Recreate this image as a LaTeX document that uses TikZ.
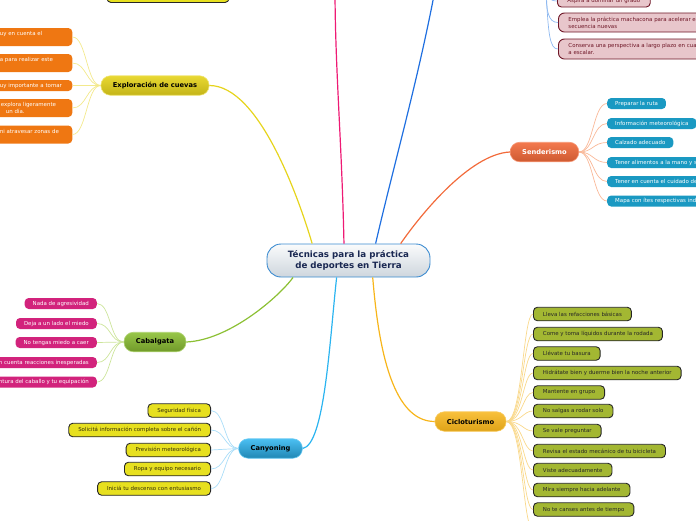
\documentclass[tikz,border=0pt]{standalone}
\usepackage{fontspec}
\setmainfont{DejaVu Sans}
\definecolor{rootborde}{RGB}{59, 139, 208}
\definecolor{rootalto}{RGB}{250, 251, 252}
\definecolor{rootbajo}{RGB}{206, 214, 221}
\definecolor{rootletra}{RGB}{26, 40, 82}
\definecolor{lineacueva}{RGB}{230, 212, 28}
\definecolor{hilocueva}{RGB}{243, 233, 140}
\definecolor{linearosa}{RGB}{238, 26, 116}
\definecolor{lineaazul}{RGB}{31, 111, 224}
\definecolor{hiloazul}{RGB}{141, 184, 240}
\definecolor{lineasenda}{RGB}{242, 106, 58}
\definecolor{hilosenda}{RGB}{249, 184, 152}
\definecolor{lineacab}{RGB}{140, 192, 52}
\definecolor{hilocab}{RGB}{204, 228, 154}
\definecolor{lineacan}{RGB}{43, 180, 240}
\definecolor{hilocan}{RGB}{169, 221, 248}
\definecolor{lineacic}{RGB}{247, 181, 26}
\definecolor{hilocic}{RGB}{249, 216, 138}
\definecolor{naranjahoja}{RGB}{239, 119, 18}
\definecolor{tealhoja}{RGB}{26, 153, 194}
\definecolor{magentahoja}{RGB}{210, 35, 124}
\definecolor{amarillohoja}{RGB}{231, 224, 31}
\definecolor{olivahoja}{RGB}{163, 183, 50}
\definecolor{rosahoja}{RGB}{232, 198, 203}
\definecolor{granate}{RGB}{110, 22, 38}
\definecolor{letraoscura}{RGB}{52, 46, 8}

\tikzset{
  raiz/.style={draw=rootborde, line width=0.9pt, top color=rootalto, bottom color=rootbajo,
    rounded corners=14pt, minimum width=163pt, minimum height=33pt, align=center,
    text=rootletra, font=\fontsize{8.7}{11}\selectfont\bfseries},
  tema/.style={rounded corners=9.5pt, minimum height=19.5pt, inner xsep=12pt, line width=0.6pt,
    font=\fontsize{6.7}{8}\selectfont\bfseries},
  hoja/.style={rounded corners=4pt, minimum height=11pt, inner xsep=8pt, inner ysep=1.5pt,
    font=\fontsize{5.45}{7}\selectfont},
  hojanegra/.style={hoja, draw=black!85, line width=0.9pt, minimum height=13.5pt, inner xsep=9.5pt},
  rama/.style={line width=1.2pt},
  ramita/.style={line width=0.7pt},
}

\begin{document}
\begin{tikzpicture}[x=1pt, y=-1pt]
  \useasboundingbox (0,0) rectangle (696,520);
  \clip (0,0) rectangle (696,520);

  % 中心节点
  \node[raiz] (root) at (348.5,260.5) {Técnicas para la práctica\\de deportes en Tierra};

  % 主题
  \node[tema, draw=lineacueva!60, top color=lineacueva!90!white, bottom color=lineacueva!85!black] (cuevas) at (155,85.5) {Exploración de cuevas};
  \node[tema, draw=lineasenda!70, top color=lineasenda!90!white, bottom color=lineasenda!85!black, text=white] (senda) at (544.5,152) {Senderismo};
  \node[tema, draw=lineacab!70, top color=lineacab!90!white, bottom color=lineacab!80!black] (cabal) at (155,342) {Cabalgata};
  \node[tema, draw=lineacan!70, top color=lineacan!85!white, bottom color=lineacan!75!black] (canyon) at (270.5,448.5) {Canyoning};
  \node[tema, draw=lineacic!70, top color=lineacic!85!white, bottom color=lineacic!90!black] (ciclo) at (470.5,421.5) {Cicloturismo};

  % 画面外的节点
  \node[draw=black!85, line width=0.9pt, fill=amarillohoja, rounded corners=4pt, minimum width=122pt, minimum height=17pt] (arriba) at (168,-6) {};
  \coordinate (rosafin) at (335,-12);
  \coordinate (azulfin) at (435,-10);
  \coordinate (azulhijo) at (546,-14);
  \coordinate (cic12) at (533,530);

  % 主干
  \draw[rama, lineacueva] (root.155) .. controls +(-13,-44) and +(50,0) .. (cuevas.east);
  \draw[rama, linearosa] (root.105) .. controls +(-2,-100) and +(0,80) .. (rosafin);
  \draw[rama, lineaazul] (root.32) .. controls +(17,-74) and +(-17,90) .. (azulfin);
  \draw[rama, lineasenda] (root.18) .. controls +(20,-29) and +(-40,2) .. (senda.west);
  \draw[rama, lineacab] (root.197) .. controls +(-13,18) and +(44,-2) .. (cabal.east);
  \draw[rama, lineacan] (root.235) .. controls +(-7,63) and +(22,-4) .. (canyon.east);
  \draw[rama, lineacic] (root.325) .. controls +(5,60) and +(-45,0) .. (ciclo.west);

  % Exploración de cuevas
  \node[hoja, fill=naranjahoja, text=white, anchor=east, text width=69.8pt, align=left, minimum height=18pt] (cue1) at (72.5,37) {muy en cuenta el\\\mbox{}};
  \node[hoja, fill=naranjahoja, text=white, anchor=east, text width=64.5pt, align=left, minimum height=18pt] (cue2) at (72.5,63) {a para realizar este\\\mbox{}};
  \node[hoja, fill=naranjahoja, text=white, anchor=east, text width=69.8pt, align=left] (cue3) at (72.5,85.5) {muy importante a tomar};
  \node[hoja, fill=naranjahoja, text=white, anchor=east, text width=63.5pt, align=left, minimum height=18pt] (cue4) at (72.5,108) {explora ligeramente\\\hspace*{5pt}un día.};
  \node[hoja, fill=naranjahoja, text=white, anchor=east, text width=64.5pt, align=left, minimum height=18pt] (cue5) at (72.5,134.5) {ni atravesar zonas de\\\mbox{}};
  \draw[ramita, hilocueva] (cuevas.west) .. controls +(-14,0) and +(14,0) .. (cue1.east);
  \draw[ramita, hilocueva] (cuevas.west) .. controls +(-14,0) and +(14,0) .. (cue2.east);
  \draw[ramita, hilocueva] (cuevas.west) .. controls +(-14,0) and +(14,0) .. (cue3.east);
  \draw[ramita, hilocueva] (cuevas.west) .. controls +(-14,0) and +(14,0) .. (cue4.east);
  \draw[ramita, hilocueva] (cuevas.west) .. controls +(-14,0) and +(14,0) .. (cue5.east);

  % 右上角
  \node[hoja, fill=rosahoja, draw=granate, line width=0.9pt, text=granate, inner xsep=10pt, minimum height=12pt, anchor=west] (asp1) at (557,1) {Aspira a dominar un grado};
  \node[hoja, fill=rosahoja, draw=granate, line width=0.9pt, text=granate, inner xsep=10pt, minimum height=19pt, anchor=west, align=left, rounded corners=6pt] (asp2) at (558,22.5) {Emplea la práctica machacona para acelerar el ritmo de la\\secuencia nuevas};
  \node[hoja, fill=rosahoja, draw=granate, line width=0.9pt, text=granate, inner xsep=10pt, minimum height=20pt, anchor=west, align=left, rounded corners=6pt] (asp3) at (558,49) {Conserva una perspectiva a largo plazo en cuanto a la forma\\a escalar.};
  \draw[ramita, hiloazul] (azulhijo) .. controls +(0,10) and +(-8,0) .. (asp1.west);
  \draw[ramita, hiloazul] (azulhijo) .. controls +(0,25) and +(-10,0) .. (asp2.west);
  \draw[ramita, hiloazul] (azulhijo) .. controls +(2,50) and +(-8,0) .. (asp3.west);

  % Senderismo
  \node[hoja, fill=tealhoja, text=white, anchor=west] (sen1) at (607,103.5) {Preparar la ruta};
  \node[hoja, fill=tealhoja, text=white, anchor=west] (sen2) at (607,123.5) {Información meteorológica};
  \node[hoja, fill=tealhoja, text=white, anchor=west] (sen3) at (607,142.5) {Calzado adecuado};
  \node[hoja, fill=tealhoja, text=white, anchor=west] (sen4) at (607,162.5) {Tener alimentos a la mano y suficiente agua};
  \node[hoja, fill=tealhoja, text=white, anchor=west] (sen5) at (607,181.5) {Tener en cuenta el cuidado del medio ambiente};
  \node[hoja, fill=tealhoja, text=white, anchor=west] (sen6) at (607,201) {Mapa con ítes respectivas indicaciones};
  \draw[ramita, hilosenda] (senda.east) .. controls +(14,0) and +(-14,0) .. (sen1.west);
  \draw[ramita, hilosenda] (senda.east) .. controls +(14,0) and +(-14,0) .. (sen2.west);
  \draw[ramita, hilosenda] (senda.east) .. controls +(14,0) and +(-14,0) .. (sen3.west);
  \draw[ramita, hilosenda] (senda.east) .. controls +(14,0) and +(-14,0) .. (sen4.west);
  \draw[ramita, hilosenda] (senda.east) .. controls +(14,0) and +(-14,0) .. (sen5.west);
  \draw[ramita, hilosenda] (senda.east) .. controls +(14,0) and +(-14,0) .. (sen6.west);

  % Cabalgata
  \node[hoja, fill=magentahoja, text=white, anchor=east] (cab1) at (97,303.5) {Nada de agresividad};
  \node[hoja, fill=magentahoja, text=white, anchor=east] (cab2) at (97,323.5) {Deja a un lado el miedo};
  \node[hoja, fill=magentahoja, text=white, anchor=east] (cab3) at (97,342.5) {No tengas miedo a caer};
  \node[hoja, fill=magentahoja, text=white, anchor=east] (cab4) at (97,362.5) {Ten en cuenta reacciones inesperadas};
  \node[hoja, fill=magentahoja, text=white, anchor=east] (cab5) at (97,382) {Revisa la montura del caballo y tu equipación};
  \draw[ramita, hilocab] (cabal.west) .. controls +(-14,0) and +(14,0) .. (cab1.east);
  \draw[ramita, hilocab] (cabal.west) .. controls +(-14,0) and +(14,0) .. (cab2.east);
  \draw[ramita, hilocab] (cabal.west) .. controls +(-14,0) and +(14,0) .. (cab3.east);
  \draw[ramita, hilocab] (cabal.west) .. controls +(-14,0) and +(14,0) .. (cab4.east);
  \draw[ramita, hilocab] (cabal.west) .. controls +(-14,0) and +(14,0) .. (cab5.east);

  % Canyoning
  \node[hojanegra, fill=amarillohoja, text=letraoscura, anchor=east] (can1) at (211,410.5) {Seguridad física};
  \node[hojanegra, fill=amarillohoja, text=letraoscura, anchor=east] (can2) at (211,430) {Solicitá información completa sobre el cañón};
  \node[hojanegra, fill=amarillohoja, text=letraoscura, anchor=east] (can3) at (211,450) {Previsión meteorológica};
  \node[hojanegra, fill=amarillohoja, text=letraoscura, anchor=east] (can4) at (211,469) {Ropa y equipo necesario};
  \node[hojanegra, fill=amarillohoja, text=letraoscura, anchor=east] (can5) at (211,488.5) {Iniciá tu descenso con entusiasmo};
  \draw[ramita, hilocan] (canyon.west) .. controls +(-14,0) and +(14,0) .. (can1.east);
  \draw[ramita, hilocan] (canyon.west) .. controls +(-14,0) and +(14,0) .. (can2.east);
  \draw[ramita, hilocan] (canyon.west) .. controls +(-14,0) and +(14,0) .. (can3.east);
  \draw[ramita, hilocan] (canyon.west) .. controls +(-14,0) and +(14,0) .. (can4.east);
  \draw[ramita, hilocan] (canyon.west) .. controls +(-14,0) and +(14,0) .. (can5.east);

  % Cicloturismo
  \node[hojanegra, fill=olivahoja, text=black!85, anchor=west] (cic1) at (533,314) {Lleva las refacciones básicas};
  \node[hojanegra, fill=olivahoja, text=black!85, anchor=west] (cic2) at (533,334) {Come y toma líquidos durante la rodada};
  \node[hojanegra, fill=olivahoja, text=black!85, anchor=west] (cic3) at (533,353.5) {Llévate tu basura};
  \node[hojanegra, fill=olivahoja, text=black!85, anchor=west] (cic4) at (533,373) {Hidrátate bien y duerme bien la noche anterior};
  \node[hojanegra, fill=olivahoja, text=black!85, anchor=west] (cic5) at (533,392.5) {Mantente en grupo};
  \node[hojanegra, fill=olivahoja, text=black!85, anchor=west] (cic6) at (533,411) {No salgas a rodar solo};
  \node[hojanegra, fill=olivahoja, text=black!85, anchor=west] (cic7) at (533,431) {Se vale preguntar};
  \node[hojanegra, fill=olivahoja, text=black!85, anchor=west] (cic8) at (533,451) {Revisa el estado mecánico de tu bicicleta};
  \node[hojanegra, fill=olivahoja, text=black!85, anchor=west] (cic9) at (533,470) {Viste adecuadamente};
  \node[hojanegra, fill=olivahoja, text=black!85, anchor=west] (cic10) at (533,490) {Mira siempre hacia adelante};
  \node[hojanegra, fill=olivahoja, text=black!85, anchor=west] (cic11) at (533,509.5) {No te canses antes de tiempo};
  \draw[ramita, hilocic] (ciclo.east) .. controls +(16,0) and +(-10,0) .. (cic1.west);
  \draw[ramita, hilocic] (ciclo.east) .. controls +(16,0) and +(-10,0) .. (cic2.west);
  \draw[ramita, hilocic] (ciclo.east) .. controls +(16,0) and +(-10,0) .. (cic3.west);
  \draw[ramita, hilocic] (ciclo.east) .. controls +(16,0) and +(-10,0) .. (cic4.west);
  \draw[ramita, hilocic] (ciclo.east) .. controls +(16,0) and +(-10,0) .. (cic5.west);
  \draw[ramita, hilocic] (ciclo.east) .. controls +(16,0) and +(-10,0) .. (cic6.west);
  \draw[ramita, hilocic] (ciclo.east) .. controls +(16,0) and +(-10,0) .. (cic7.west);
  \draw[ramita, hilocic] (ciclo.east) .. controls +(16,0) and +(-10,0) .. (cic8.west);
  \draw[ramita, hilocic] (ciclo.east) .. controls +(16,0) and +(-10,0) .. (cic9.west);
  \draw[ramita, hilocic] (ciclo.east) .. controls +(16,0) and +(-10,0) .. (cic10.west);
  \draw[ramita, hilocic] (ciclo.east) .. controls +(16,0) and +(-10,0) .. (cic11.west);
  \draw[ramita, hilocic] (ciclo.east) .. controls +(16,0) and +(-10,0) .. (cic12);
\end{tikzpicture}
\end{document}
